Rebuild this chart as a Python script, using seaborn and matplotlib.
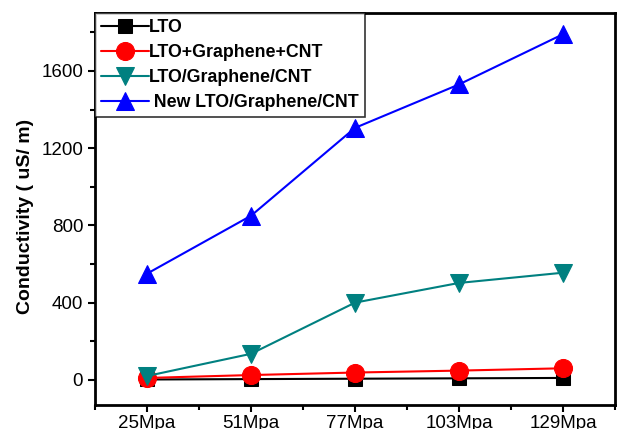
import matplotlib
matplotlib.use("Agg")
import matplotlib.pyplot as plt
import seaborn as sns
import pandas as pd
from matplotlib.ticker import MultipleLocator, FixedLocator

pressures = ["25Mpa", "51Mpa", "77Mpa", "103Mpa", "129Mpa"]
lto = [2, 4, 6, 8, 10]
lto_g_cnt = [10, 25, 38, 48, 60]
lto_slash = [20, 135, 400, 502, 555]
new_lto = [550, 850, 1305, 1530, 1790]

series_names = ["LTO", "LTO+Graphene+CNT", "LTO/Graphene/CNT", " New LTO/Graphene/CNT"]
series_vals = [lto, lto_g_cnt, lto_slash, new_lto]
colors = ["#000000", "#ff0000", "#008080", "#0000ff"]
markers = ["s", "o", "v", "^"]
msizes = [10, 13, 13, 13]

sns.set_style("ticks", {"axes.edgecolor": "black", "xtick.color": "black",
                        "ytick.color": "black", "text.color": "black",
                        "axes.labelcolor": "black"})
plt.rcParams['font.family'] = ['Liberation Sans', 'DejaVu Sans']

fig = plt.figure(figsize=(6.19, 4.29), dpi=100)
ax = fig.add_axes([0.1535, 0.056, 0.84, 0.9137])

xpos = list(range(len(pressures)))
for name, vals, c, m, ms in zip(series_names, series_vals, colors, markers, msizes):
    df = pd.DataFrame({"x": xpos, "y": vals})
    sns.lineplot(data=df, x="x", y="y", ax=ax, color=c, marker=m, markersize=ms,
                 markeredgecolor=c, linewidth=1.5, label=name)

ax.set_xlim(-0.5, 4.5)
ax.set_ylim(-130, 1900)
ax.set_xticks(xpos)
ax.set_xticklabels(pressures)
ax.xaxis.set_minor_locator(FixedLocator([-0.5 + i for i in range(6)]))
ax.yaxis.set_major_locator(MultipleLocator(400))
ax.yaxis.set_minor_locator(MultipleLocator(200))
ax.tick_params(axis="both", which="major", labelsize=13.5, length=5, width=1.5,
               direction="out", colors="black")
ax.tick_params(axis="x", which="major", pad=2.5)
ax.tick_params(axis="both", which="minor", length=3.5, width=1.5, direction="out",
               colors="black")
ax.set_xlabel("")
ax.set_ylabel("Conductivity ( uS/ m)", fontsize=14, fontweight="bold", color="black")
ax.yaxis.set_label_coords(-0.117, 0.48)
for sp in ax.spines.values():
    sp.set_linewidth(2)
    sp.set_color("black")
    sp.set_visible(True)

leg = ax.legend(loc="upper left", bbox_to_anchor=(0.0, 1.0), frameon=True, fancybox=False,
                edgecolor="black", borderaxespad=0, handlelength=2.7, handletextpad=0.0,
                labelspacing=0.45, borderpad=0.35, prop={"weight": "bold", "size": 12.8})
leg.get_frame().set_linewidth(1.2)

fig.savefig("out.png", dpi=100)
